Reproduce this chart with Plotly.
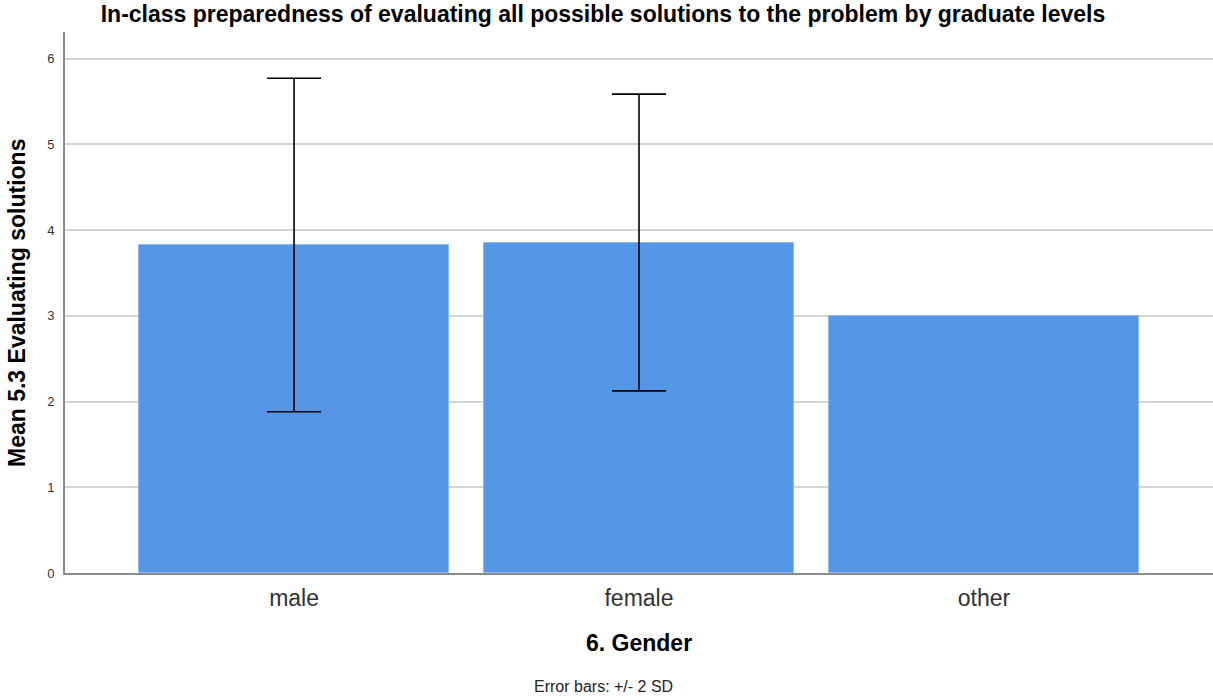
import plotly.graph_objects as go

categories = ["male", "female", "other"]
means = [3.82, 3.85, 3.00]
err_plus = [1.95, 1.735, 0.0]
err_minus = [1.94, 1.726, 0.0]

W, H = 1213, 697
L, R, T, B = 65, 0, 32, 124
pw, ph = W - L - R, H - T - B

def px(x):
    return (x - L) / pw

def py(y):
    return (H - B - y) / ph

# categories that have a non-zero spread get an error bar
err_idx = [i for i in range(len(categories)) if err_plus[i] or err_minus[i]]

fig = go.Figure()
fig.add_trace(go.Bar(
    x=categories, y=means, width=0.9,
    marker=dict(color="#5596e6", line=dict(color="#8fb8ee", width=1)),
))
fig.add_trace(go.Scatter(
    x=[categories[i] for i in err_idx], y=[means[i] for i in err_idx], mode="markers",
    marker=dict(size=1, color="rgba(0,0,0,0)"),
    error_y=dict(type="data", symmetric=False,
                 array=[err_plus[i] for i in err_idx], arrayminus=[err_minus[i] for i in err_idx],
                 color="#000000", thickness=1.6, width=27, visible=True),
))

fig.update_layout(
    width=W, height=H,
    paper_bgcolor="white", plot_bgcolor="white",
    margin=dict(l=L, r=R, t=T, b=B),
    font=dict(family="Arial, Liberation Sans, sans-serif", color="#222"),
    showlegend=False,
    title=dict(text="<b>In-class preparedness of evaluating all possible solutions to the problem by graduate levels</b>",
               x=(603) / W, xanchor="center", y=1 - 14 / H, yanchor="middle", yref="container",
               font=dict(size=23, color="#000")),
    bargap=0,
)
fig.update_xaxes(
    range=[-0.664, 2.664], showgrid=False, showline=True, linecolor="#8a8a8a", linewidth=2,
    ticks="", tickfont=dict(size=23, color="#333"), ticklabelstandoff=3,
)
fig.update_yaxes(
    range=[0, 6.31], tickvals=[0, 1, 2, 3, 4, 5, 6], showgrid=True, gridcolor="#d4d4d4", gridwidth=2,
    showline=True, linecolor="#8a8a8a", linewidth=2, ticks="", zeroline=False,
    tickfont=dict(size=13, color="#333"), ticklabelstandoff=6,
)
fig.add_annotation(text="<b>Mean 5.3 Evaluating solutions</b>", textangle=-90, xref="paper", yref="paper",
                   x=px(17), y=py(303), xanchor="center", yanchor="middle", showarrow=False,
                   font=dict(size=23, color="#000"))
fig.add_annotation(text="<b>6. Gender</b>", xref="paper", yref="paper", x=px(639), y=py(643),
                   xanchor="center", yanchor="middle", showarrow=False, font=dict(size=23, color="#000"))
fig.add_annotation(text="Error bars: +/- 2 SD", xref="paper", yref="paper", x=px(603), y=py(686),
                   xanchor="center", yanchor="middle", showarrow=False, font=dict(size=16, color="#222"))

fig.write_html("out.html", config={"displayModeBar": False},
               post_script="document.body.style.margin='0';document.body.style.padding='0';")
